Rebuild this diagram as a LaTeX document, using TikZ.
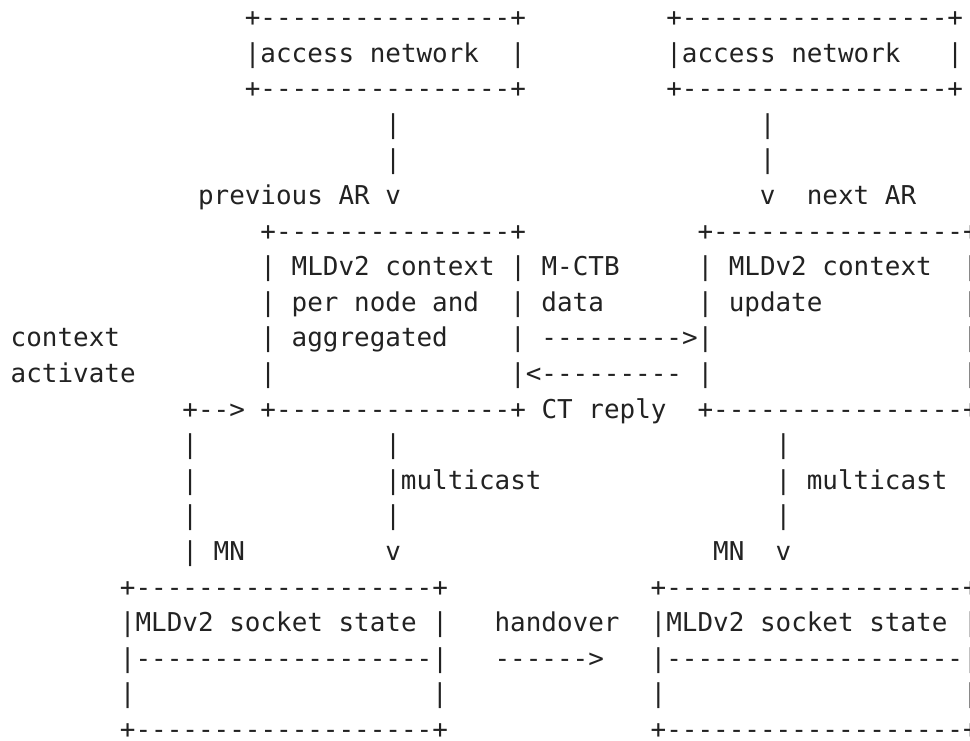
\documentclass[tikz,border=0pt]{standalone}
\usepackage{fontspec}
\setmonofont{DejaVu Sans Mono}
\usepackage{xcolor}
\definecolor{ink}{RGB}{34,34,34}

\begin{document}
\begin{tikzpicture}[x=7.805pt, y=-17.8pt,
    ascii/.style={font=\ttfamily\fontsize{12.97pt}{15pt}\selectfont, text=ink,
        anchor=base west, inner sep=0pt, outer sep=0pt}]
    \useasboundingbox (0,0) rectangle (485pt,-370pt);

    \begin{scope}[shift={(0.686,-0.258)}]
    % Access networks
    \node[ascii] (NetPrevTop) at (15,1) {+----------------+};
    \node[ascii] (NetNextTop) at (42,1) {+-----------------+};
    \node[ascii] (NetPrev)    at (15,2) {|access network};
    \node[ascii] (NetPrevR)   at (32,2) {|};
    \node[ascii] (NetNext)    at (42,2) {|access network};
    \node[ascii] (NetNextR)   at (60,2) {|};
    \node[ascii] (NetPrevBot) at (15,3) {+----------------+};
    \node[ascii] (NetNextBot) at (42,3) {+-----------------+};

    % Links down to the access routers
    \node[ascii] (UpPrevA) at (24,4) {|};
    \node[ascii] (UpNextA) at (48,4) {|};
    \node[ascii] (UpPrevB) at (24,5) {|};
    \node[ascii] (UpNextB) at (48,5) {|};
    \node[ascii] (PAR)     at (12,6) {previous AR v};
    \node[ascii] (NARv)    at (48,6) {v};
    \node[ascii] (NAR)     at (51,6) {next AR};

    % Previous AR, next AR and the M-CTB exchange
    \node[ascii] (PARTop)  at (16,7) {+---------------+};
    \node[ascii] (NARTop)  at (44,7) {+----------------+};
    \node[ascii] (PARCtxA) at (16,8) {| MLDv2 context | M-CTB};
    \node[ascii] (NARCtxA) at (44,8) {| MLDv2 context};
    \node[ascii] (NARRa)   at (61,8) {|};
    \node[ascii] (PARCtxB) at (16,9) {| per node and};
    \node[ascii] (Data)    at (32,9) {| data};
    \node[ascii] (NARCtxB) at (44,9) {| update};
    \node[ascii] (NARRb)   at (61,9) {|};
    \node[ascii] (CtxA)    at (0,10) {context};
    \node[ascii] (PARCtxC) at (16,10) {| aggregated};
    \node[ascii] (CTB)     at (32,10) {| --------->|};
    \node[ascii] (NARRc)   at (61,10) {|};
    \node[ascii] (CtxB)    at (0,11) {activate};
    \node[ascii] (PARLd)   at (16,11) {|};
    \node[ascii] (Reply)   at (32,11) {|<--------- |};
    \node[ascii] (NARRd)   at (61,11) {|};
    \node[ascii] (PARBot)  at (11,12) {+--> +---------------+ CT reply};
    \node[ascii] (NARBot)  at (44,12) {+----------------+};

    % Multicast and MN links
    \node[ascii] (MNPrevA) at (11,13) {|};
    \node[ascii] (McPrevA) at (24,13) {|};
    \node[ascii] (McNextA) at (49,13) {|};
    \node[ascii] (MNPrevB) at (11,14) {|};
    \node[ascii] (McPrev)  at (24,14) {|multicast};
    \node[ascii] (McNext)  at (49,14) {| multicast};
    \node[ascii] (MNPrevC) at (11,15) {|};
    \node[ascii] (McPrevC) at (24,15) {|};
    \node[ascii] (McNextC) at (49,15) {|};
    \node[ascii] (MNPrev)  at (11,16) {| MN};
    \node[ascii] (McPrevv) at (24,16) {v};
    \node[ascii] (MNNext)  at (45,16) {MN};
    \node[ascii] (McNextv) at (49,16) {v};

    % MLDv2 socket state before and after handover
    \node[ascii] (SockPrevTop) at (7,17)  {+-------------------+};
    \node[ascii] (SockNextTop) at (41,17) {+-------------------+};
    \node[ascii] (SockPrev)    at (7,18)  {|MLDv2 socket state |};
    \node[ascii] (Handover)    at (31,18) {handover};
    \node[ascii] (SockNext)    at (41,18) {|MLDv2 socket state |};
    \node[ascii] (SockPrevMid) at (7,19)  {|-------------------|};
    \node[ascii] (HoArrow)     at (31,19) {------>};
    \node[ascii] (SockNextMid) at (41,19) {|-------------------|};
    \node[ascii] (SockPrevL)   at (7,20)  {|};
    \node[ascii] (SockPrevR)   at (27,20) {|};
    \node[ascii] (SockNextL)   at (41,20) {|};
    \node[ascii] (SockNextR)   at (61,20) {|};
    \node[ascii] (SockPrevBot) at (7,21)  {+-------------------+};
    \node[ascii] (SockNextBot) at (41,21) {+-------------------+};
    \end{scope}
\end{tikzpicture}
\end{document}
